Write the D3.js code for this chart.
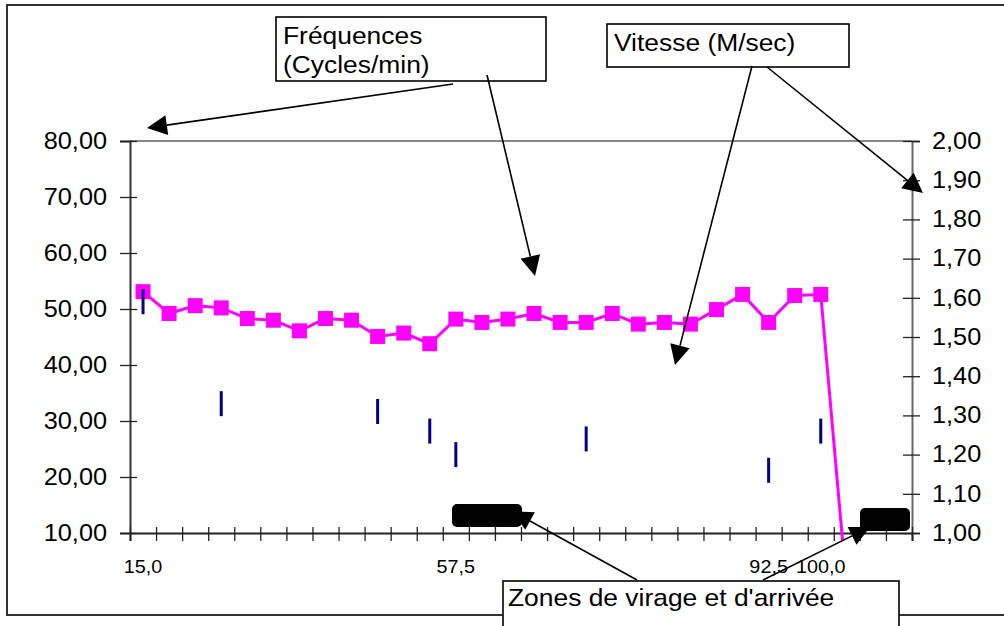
<!DOCTYPE html>
<html>
<head>
<meta charset="utf-8">
<script src="https://cdn.jsdelivr.net/npm/d3@7/dist/d3.min.js"></script>
<style>
  body { margin: 0; background: #fff; }
  svg { display: block; font-family: "Liberation Sans", Arial, sans-serif; }
</style>
</head>
<body>
<svg id="chart" width="1004" height="626"></svg>
<script>
// ---------- data ----------
const categories = d3.range(30);
const xLabels = ["15,0","","","","","","","","","","","","57,5","","","","","","","","","","","","92,5","","100,0","","",""];
const freq = [53.1,49.2,50.6,50.2,48.3,48.0,46.1,48.3,48.0,45.1,45.7,43.8,48.2,47.6,48.2,49.2,47.6,47.6,49.2,47.3,47.6,47.3,49.9,52.6,47.6,52.4,52.6,0];
const speed = [1.59,null,null,1.33,null,null,null,null,null,1.31,null,1.26,1.20,null,null,null,null,1.24,null,null,null,null,null,null,1.16,null,1.26,null,null,null];
const leftTicks = [10,20,30,40,50,60,70,80];
const rightTicks = [1.0,1.1,1.2,1.3,1.4,1.5,1.6,1.7,1.8,1.9,2.0];
const calloutFreq = ["Fréquences","(Cycles/min)"];
const calloutSpeed = "Vitesse (M/sec)";
const calloutZones = "Zones de virage et d'arrivée";

// ---------- layout ----------
const SX = 1.1; // horizontal stretch of text in the reference
const plot = {left:130, right:912, top:141, bottom:533};
const svg = d3.select("#chart");
const loc = d3.formatLocale({decimal:",", thousands:" ", grouping:[3], currency:["",""]});
const f2 = loc.format(".2f");

const xBand = d3.scaleBand().domain(categories).range([plot.left, plot.right]).padding(0);
const xEdge = d3.scaleLinear().domain([0, categories.length]).range([plot.left, plot.right]);
const yL = d3.scaleLinear().domain([10,80]).range([plot.bottom, plot.top]);
const yR = d3.scaleLinear().domain([1,2]).range([plot.bottom, plot.top]);

// outer chart border
svg.append("rect").attr("x",7).attr("y",5).attr("width",1010).attr("height",610)
  .attr("fill","#fff").attr("stroke","#000").attr("stroke-width",1.6);

// top plot border
svg.append("line").attr("x1",plot.left).attr("x2",plot.right).attr("y1",plot.top).attr("y2",plot.top)
  .attr("stroke","#888").attr("stroke-width",2);

function stretchTexts(sel){
  sel.selectAll("text").each(function(){
    const t = d3.select(this);
    const x = +t.attr("x") || 0;
    t.attr("x", x/SX).attr("transform", `scale(${SX},1)`);
  });
}

// left axis
const gL = svg.append("g").attr("transform",`translate(${plot.left},0)`)
  .call(d3.axisLeft(yL).tickValues(leftTicks).tickFormat(f2).tickSize(10).tickPadding(13));
gL.select(".domain").attr("stroke","#333").attr("stroke-width",2);
gL.selectAll(".tick line").attr("x1",7).attr("x2",-10).attr("stroke","#222").attr("stroke-width",1.3);
gL.selectAll("text").attr("font-size",23).attr("font-family","Liberation Sans, Arial").attr("fill","#000");
stretchTexts(gL);

// right axis
const gR = svg.append("g").attr("transform",`translate(${plot.right},0)`)
  .call(d3.axisRight(yR).tickValues(rightTicks).tickFormat(f2).tickSize(8).tickPadding(12));
gR.select(".domain").attr("stroke","#666").attr("stroke-width",2);
gR.selectAll(".tick line").attr("x1",-9).attr("x2",8).attr("stroke","#222").attr("stroke-width",1.3);
gR.selectAll("text").attr("font-size",23).attr("font-family","Liberation Sans, Arial").attr("fill","#000");
stretchTexts(gR);

// bottom axis: ticks on category boundaries
const gB = svg.append("g").attr("transform",`translate(0,${plot.bottom})`)
  .call(d3.axisBottom(xEdge).tickValues(d3.range(categories.length+1)).tickFormat("").tickSize(8));
gB.select(".domain").attr("stroke","#222").attr("stroke-width",2);
gB.selectAll(".tick line").attr("y1",-6).attr("y2",8).attr("stroke","#222").attr("stroke-width",1.3);

// bottom labels at category centres
const gBL = svg.append("g").attr("transform",`translate(0,${plot.bottom})`)
  .call(d3.axisBottom(xBand).tickFormat((d,i)=>xLabels[i]).tickSize(0).tickPadding(27));
gBL.select(".domain").remove();
gBL.selectAll("text").attr("font-size",18).attr("font-family","Liberation Sans, Arial").attr("fill","#000");
stretchTexts(gBL);

// clip for series
svg.append("clipPath").attr("id","clip").append("rect")
  .attr("x",plot.left).attr("y",plot.top-20).attr("width",plot.right-plot.left).attr("height",plot.bottom-plot.top+28);

// frequency line
const cx = i => xBand(i)+xBand.bandwidth()/2;
svg.append("path").datum(freq).attr("clip-path","url(#clip)")
  .attr("d", d3.line().x((d,i)=>cx(i)).y(d=>yL(d)))
  .attr("fill","none").attr("stroke","#ff00ff").attr("stroke-width",3);
svg.append("g").selectAll("rect").data(freq.map((v,i)=>({i,v})).filter(d=>d.v>=10)).join("rect")
  .attr("x",d=>cx(d.i)-7.5).attr("y",d=>yL(d.v)-7.5).attr("width",15).attr("height",15)
  .attr("fill","#ff00ff");

// speed marks (navy vertical dashes), drawn on top
svg.append("g").selectAll("line").data(speed.map((v,i)=>({i,v})).filter(d=>d.v!==null)).join("line")
  .attr("x1",d=>cx(d.i)).attr("x2",d=>cx(d.i))
  .attr("y1",d=>yR(d.v)-12.5).attr("y2",d=>yR(d.v)+12.5)
  .attr("stroke","#000080").attr("stroke-width",3);

// ---------- annotations ----------
function arrow(x1,y1,x2,y2){
  const dx=x2-x1, dy=y2-y1, L=Math.hypot(dx,dy), ux=dx/L, uy=dy/L;
  const len=20, hw=10;
  const bx=x2-ux*len, by=y2-uy*len;
  svg.append("line").attr("x1",x1).attr("y1",y1).attr("x2",bx).attr("y2",by)
    .attr("stroke","#000").attr("stroke-width",1.6);
  svg.append("path").attr("d",`M${x2},${y2}L${bx-uy*hw},${by+ux*hw}L${bx+uy*hw},${by-ux*hw}Z`).attr("fill","#000");
}
function box(x,y,w,h){
  svg.append("rect").attr("x",x).attr("y",y).attr("width",w).attr("height",h)
    .attr("fill","#fff").attr("stroke","#000").attr("stroke-width",1.6);
}
function label(txt,x,y,size){
  svg.append("text").attr("transform",`translate(${x},${y}) scale(${SX},1)`)
    .attr("font-size",size).attr("fill","#000").text(txt);
}

// Fréquences callout
box(276,17,270,64);
label(calloutFreq[0],283,43.5,24);
label(calloutFreq[1],283,73,24);
arrow(453,84,147,128);
arrow(487,75,535,276);

// Vitesse callout
box(607,24,242,43);
label(calloutSpeed,614,51,24);
arrow(752,66,675,365);
arrow(767,67,923,193);

// Zones callout
arrow(637,580,512.5,511.3);
arrow(763,580,870,527);
svg.append("rect").attr("x",452).attr("y",504).attr("width",70).attr("height",23).attr("rx",5).attr("fill","#000");
svg.append("rect").attr("x",860).attr("y",508).attr("width",50).attr("height",23).attr("rx",5).attr("fill","#000");
box(503,581,396,60);
label(calloutZones,508,606,24);
</script>
</body>
</html>
